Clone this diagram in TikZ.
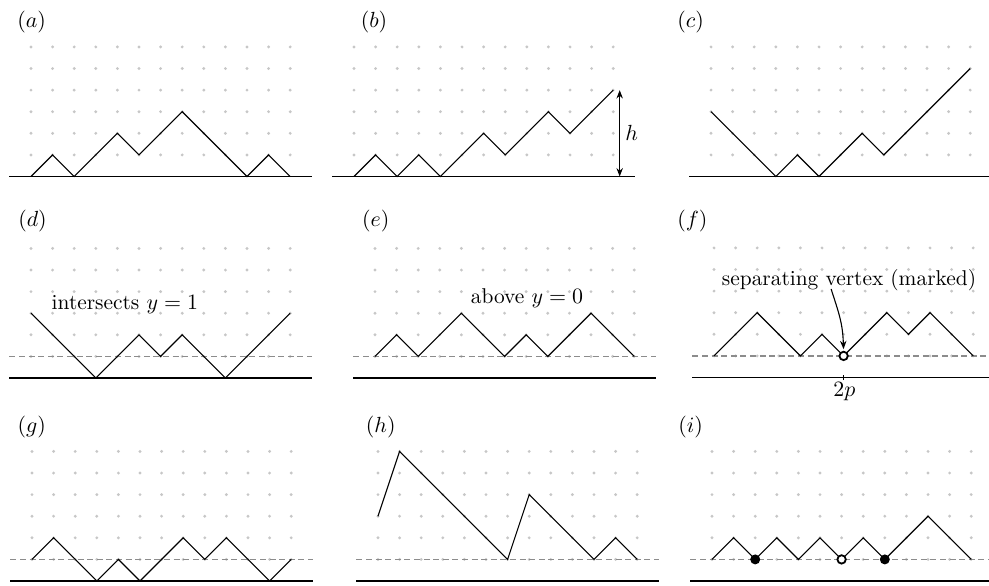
\documentclass[tikz,border=0pt]{standalone}
\usetikzlibrary{arrows.meta}
\newcommand\dotgrid{\foreach \i in {0,...,12}{\foreach \j in {1,...,6}{\fill[gdot] (\i,\j) circle[radius=0.8pt];}}}
\begin{document}
\begin{tikzpicture}[x=0.5pt,y=-0.5pt,
  every node/.style={font=\fontsize{10.7}{13}\selectfont},
  gdot/.style={fill=black!22},
  walk/.style={line width=0.55pt,line join=miter},
  axisln/.style={line width=0.6pt},
  refln/.style={draw=black!45, line width=0.7pt, dash pattern=on 3pt off 1.8pt},
  plabel/.style={inner sep=0pt},
  panel/.style={x=10.8pt,y=10.8pt},
  opendot/.style={circle, draw, line width=0.9pt, fill=white, inner sep=0pt, minimum size=4.2pt},
  fulldot/.style={circle, fill, inner sep=0pt, minimum size=5pt},
  onetip/.style={-{Stealth[length=4.2pt,width=3.2pt]}},
  twotip/.style={{Stealth[length=4.2pt,width=3.2pt]}-{Stealth[length=4.2pt,width=3.2pt]}}
]
\useasboundingbox (0,0) rectangle (989,585);

% panel labels
\node[plabel] (la) at (31.7,22) {$(a)$};
\node[plabel] (lb) at (374,22) {$(b)$};
\node[plabel] (lc) at (690.7,22.5) {$(c)$};
\node[plabel] (ld) at (32.5,221) {$(d)$};
\node[plabel] (le) at (375.7,221.5) {$(e)$};
\node[plabel] (lf) at (692.3,221.5) {$(f)$};
\node[plabel] (lg) at (31.7,427) {$(g)$};
\node[plabel] (lh) at (380.7,427) {$(h)$};
\node[plabel] (li) at (690.7,427) {$(i)$};

% (a)
\begin{scope}[shift={(15.5pt,-88.25pt)},panel]
  \dotgrid
  \draw[axisln] (-1,0) -- (13,0);
  \draw[walk] (0,0) -- (1,1) -- (2,0) -- (3,1) -- (4,2) -- (5,1) -- (6,2) -- (7,3) -- (10,0) -- (11,1) -- (12,0);
\end{scope}

% (b)
\begin{scope}[shift={(177pt,-88.25pt)},panel]
  \dotgrid
  \draw[axisln] (-1,0) -- (13,0);
  \draw[walk] (0,0) -- (1,1) -- (2,0) -- (3,1) -- (4,0) -- (6,2) -- (7,1) -- (9,3) -- (10,2) -- (12,4);
  \coordinate (hb) at (12.3,0);
  \coordinate (ht) at (12.3,4);
  \draw[twotip,line width=0.6pt] (hb) -- node[right,inner sep=2.5pt] (hl) {$h$} (ht);
\end{scope}

% (c)
\begin{scope}[shift={(355.5pt,-88.25pt)},panel]
  \dotgrid
  \draw[axisln] (-1,0) -- (13,0);
  \draw[walk] (0,3) -- (3,0) -- (4,1) -- (5,0) -- (7,2) -- (8,1) -- (12,5);
\end{scope}

% (d)
\begin{scope}[shift={(15.5pt,-189pt)},panel]
  \dotgrid
  \draw[refln] (-1,1) -- (13,1);
  \draw[axisln] (-1,0) -- (13,0);
  \draw[walk] (0,3) -- (3,0) -- (5,2) -- (6,1) -- (7,2) -- (9,0) -- (12,3);
  \node[anchor=base,inner sep=0pt] (td) at (4.35,3.18) {intersects $y=1$};
\end{scope}

% (e)
\begin{scope}[shift={(187.5pt,-189pt)},panel]
  \dotgrid
  \draw[refln] (-1,1) -- (13,1);
  \draw[axisln] (-1,0) -- (13,0);
  \draw[walk] (0,1) -- (1,2) -- (2,1) -- (4,3) -- (6,1) -- (7,2) -- (8,1) -- (10,3) -- (12,1);
  \node[anchor=base,inner sep=0pt] (te) at (7.04,3.46) {above $y=0$};
\end{scope}

% (f)
\begin{scope}[shift={(357pt,-188.75pt)},panel]
  \dotgrid
  \draw[refln] (-1,1) -- (13,1);
  \draw[axisln] (-1,0) -- (13,0);
  \draw[axisln] (6,-0.12) -- (6,0.12);
  \draw[walk] (0,1) -- (2,3) -- (4,1) -- (5,2) -- (6,1) -- (8,3) -- (9,2) -- (10,3) -- (12,1);
  \node[opendot] (fc) at (6,1) {};
  \node[anchor=base,inner sep=0pt] (tf) at (6.25,4.25) {separating vertex (marked)};
  \node[anchor=base,inner sep=0pt] (tp) at (6.04,-0.9) {$2p$};
  \coordinate (fs) at (5.42,4.1);
  \draw[onetip,line width=0.55pt,shorten >=0.8pt] (fs) to[out=-72,in=92,looseness=1.1] (fc.north);
\end{scope}

% (g)
\begin{scope}[shift={(16pt,-290.5pt)},panel]
  \dotgrid
  \draw[refln] (-1,1) -- (13,1);
  \draw[axisln] (-1,0) -- (13,0);
  \draw[walk] (0,1) -- (1,2) -- (3,0) -- (4,1) -- (5,0) -- (7,2) -- (8,1) -- (9,2) -- (11,0) -- (12,1);
\end{scope}

% (h)
\begin{scope}[shift={(189pt,-290.5pt)},panel]
  \dotgrid
  \draw[refln] (-1,1) -- (13,1);
  \draw[axisln] (-1,0) -- (13,0);
  \draw[walk] (0,3) -- (1,6) -- (6,1) -- (7,4) -- (10,1) -- (11,2) -- (12,1);
\end{scope}

% (i)
\begin{scope}[shift={(356pt,-290.5pt)},panel]
  \dotgrid
  \draw[refln] (-1,1) -- (13,1);
  \draw[axisln] (-1,0) -- (13,0);
  \draw[walk] (0,1) -- (1,2) -- (2,1) -- (3,2) -- (4,1) -- (5,2) -- (6,1) -- (7,2) -- (8,1) -- (10,3) -- (12,1);
  \node[fulldot] (i1) at (2,1) {};
  \node[opendot] (i2) at (6,1) {};
  \node[fulldot] (i3) at (8,1) {};
\end{scope}
\end{tikzpicture}
\end{document}
